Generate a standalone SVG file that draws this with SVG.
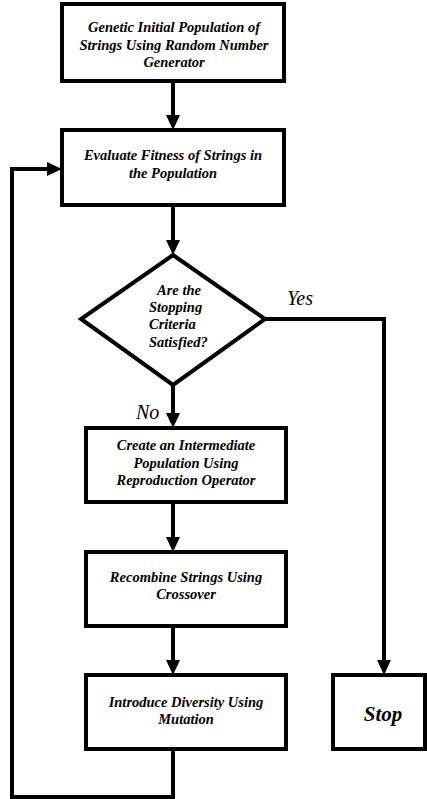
<svg xmlns="http://www.w3.org/2000/svg" width="427" height="799" viewBox="0 0 427 799">
<defs>
<style>
.box{fill:#fff;stroke:#000;stroke-width:4}
.t{font-family:'Liberation Serif','DejaVu Serif',serif;font-weight:bold;font-style:italic;font-size:14.5px;fill:#000;text-anchor:middle}
.lbl{font-family:'Liberation Serif','DejaVu Serif',serif;font-style:italic;font-size:20px;fill:#000}
.c{fill:none;stroke:#000;stroke-width:4}
</style>
<marker id="ah" markerUnits="userSpaceOnUse" markerWidth="16" markerHeight="16" refX="7" refY="7" orient="auto">
<path d="M0,0 L15,7 L0,14 Z" fill="#000"/>
</marker>
</defs>
<rect width="427" height="799" fill="#fff"/>
<g id="connectors">
<line class="c" x1="173" y1="81" x2="173" y2="122" marker-end="url(#ah)"/>
<line class="c" x1="173" y1="205" x2="173" y2="247" marker-end="url(#ah)"/>
<line class="c" x1="173" y1="385" x2="173" y2="420" marker-end="url(#ah)"/>
<line class="c" x1="173" y1="502" x2="173" y2="544" marker-end="url(#ah)"/>
<line class="c" x1="173" y1="626" x2="173" y2="667" marker-end="url(#ah)"/>
<polyline class="c" points="265,319 384,319 384,667" marker-end="url(#ah)"/>
<polyline class="c" points="173,749 173,797 12,797 12,169 54,169" marker-end="url(#ah)"/>
<text class="lbl" x="287" y="305">Yes</text>
<text class="lbl" x="136" y="419">No</text>
</g>
<g id="init">
<rect class="box" x="62" y="4" width="222" height="77"/>
<text class="t" x="174" y="32">Genetic Initial Population of</text>
<text class="t" x="174" y="50">Strings Using Random Number</text>
<text class="t" x="174" y="67">Generator</text>
</g>
<g id="evaluate">
<rect class="box" x="62" y="130" width="222" height="75"/>
<text class="t" x="173" y="160">Evaluate Fitness of Strings in</text>
<text class="t" x="173" y="178">the Population</text>
</g>
<g id="decision">
<polygon class="box" points="173,255 265,319 173,385 81,319"/>
<text class="t" x="157" y="295" style="text-anchor:start">Are the</text>
<text class="t" x="149" y="312" style="text-anchor:start">Stopping</text>
<text class="t" x="149" y="329" style="text-anchor:start">Criteria</text>
<text class="t" x="149" y="347" style="text-anchor:start">Satisfied?</text>
</g>
<g id="reproduce">
<rect class="box" x="86" y="428" width="200" height="74"/>
<text class="t" x="186" y="450">Create an Intermediate</text>
<text class="t" x="186" y="468">Population Using</text>
<text class="t" x="186" y="485">Reproduction Operator</text>
</g>
<g id="crossover">
<rect class="box" x="86" y="552" width="200" height="74"/>
<text class="t" x="186" y="582">Recombine Strings Using</text>
<text class="t" x="186" y="599">Crossover</text>
</g>
<g id="mutation">
<rect class="box" x="86" y="675" width="200" height="74"/>
<text class="t" x="186" y="707">Introduce Diversity Using</text>
<text class="t" x="186" y="724">Mutation</text>
</g>
<g id="stop">
<rect class="box" x="333" y="675" width="92" height="74"/>
<text class="t" x="383" y="721" style="font-size:21px">Stop</text>
</g>
</svg>
